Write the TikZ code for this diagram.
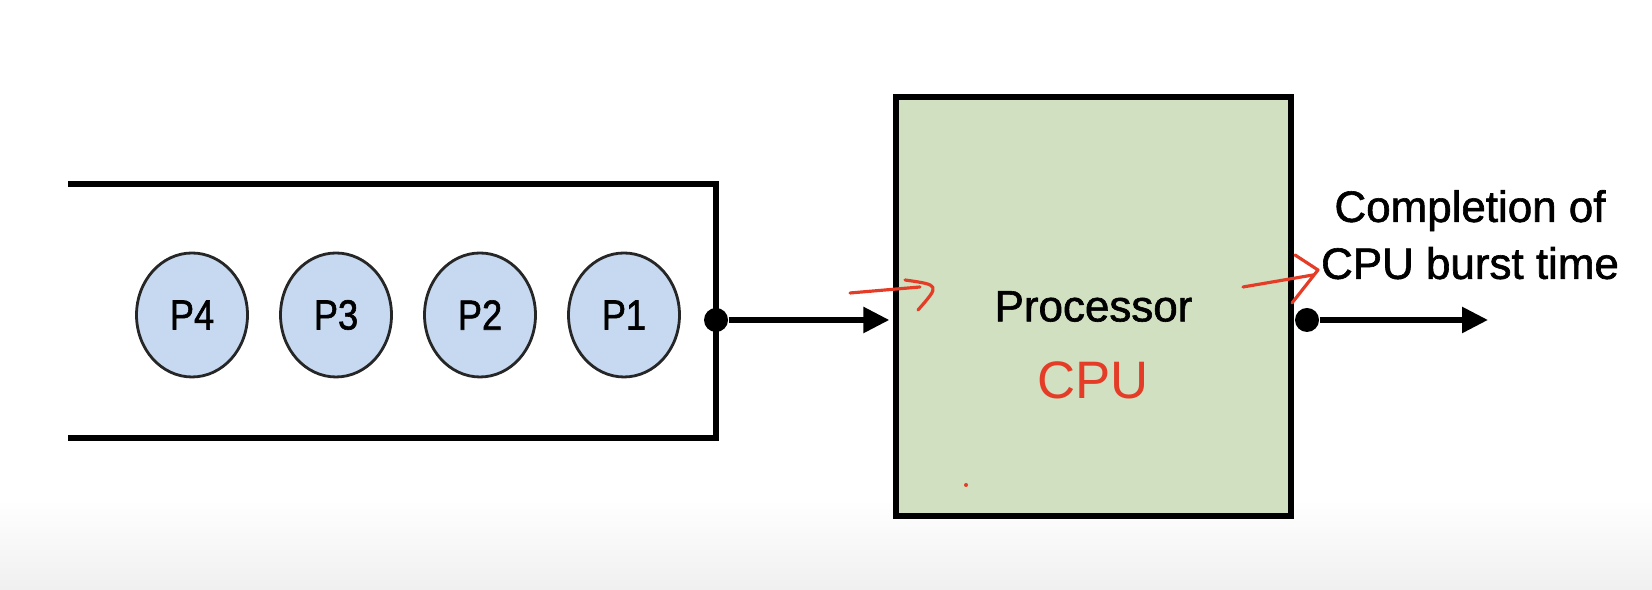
\documentclass[tikz,border=0pt]{standalone}
\usepackage{fontspec}
\setmainfont{Liberation Sans}
\newfontfamily\heavy[FakeBold=1.4]{Liberation Sans}
\newfontfamily\narrowheavy[FakeBold=1.4,FakeStretch=0.86]{Liberation Sans}
\usetikzlibrary{shapes.geometric}
\usetikzlibrary{arrows.meta}
\usetikzlibrary{positioning}
\definecolor{procblue}{RGB}{198,217,240}
\definecolor{procgreen}{RGB}{208,224,192}
\definecolor{penred}{RGB}{228,60,38}

\begin{document}
\begin{tikzpicture}[node distance=1.44cm,
    main node/.style={ellipse, draw=black!85, line width=0.8pt, fill=procblue, minimum width=1.11cm, minimum height=1.24cm, inner sep=0pt, font=\narrowheavy\fontsize{12}{14}\selectfont},
    dot/.style={circle, fill=black, inner sep=0pt, minimum size=0.24cm},
    flow/.style={-{Triangle[length=0.26cm,width=0.25cm]}, line width=1.6pt},
    pen/.style={penred, line width=0.9pt, line cap=round, line join=round}]

    \useasboundingbox (0,0) rectangle (16.52,5.90);
    \shade[top color=white, bottom color=black!6] (0,0) rectangle (16.52,0.9);

    % ready queue
    \draw[line width=1.6pt] (0.68,4.06) -- (7.16,4.06) -- (7.16,1.52) -- (0.68,1.52);
    \node[main node] (1) at (6.24,2.75) {P1};
    \node[main node] (2) [left of=1] {P2};
    \node[main node] (3) [left of=2] {P3};
    \node[main node] (4) [left of=3] {P4};
    \node[dot] (qout) at (7.16,2.70) {};

    % processor
    \node[draw, line width=1.8pt, fill=procgreen, minimum width=3.95cm, minimum height=4.19cm, font=\heavy\fontsize{12.5}{15}\selectfont] (5) at (10.935,2.835) {Processor};
    \node[text=penred, font=\fontsize{15}{18}\selectfont] (note) at (10.93,2.10) {CPU};
    \node[dot] (done) at (13.07,2.70) {};
    \coordinate (exit) at (14.88,2.70);
    \node[align=center, anchor=south, inner sep=0pt, font=\heavy\fontsize{12.5}{16.2}\selectfont] (lbl) at (14.70,3.10) {Completion of\\CPU burst time};

    \draw[flow, shorten >=1pt] (qout) -- (qout -| 5.west);
    \draw[flow] (done) -- (exit);

    % pen marks
    \draw[pen] (8.50,2.97) -- (9.20,3.03);
    \draw[pen] (9.05,3.10) .. controls (9.40,3.05) .. (9.18,2.80);
    \draw[pen] (12.43,3.03) -- (13.13,3.15);
    \draw[pen] (12.95,3.35) -- (13.18,3.20) -- (12.92,2.87);
    \fill[penred] (9.66,1.05) circle (0.02);

\end{tikzpicture}
\end{document}
